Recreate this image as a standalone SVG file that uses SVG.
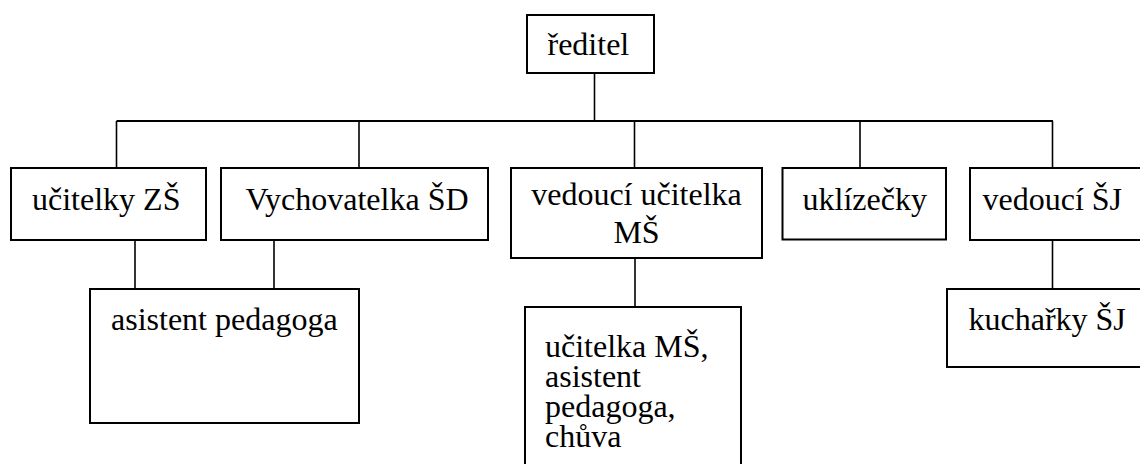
<svg xmlns="http://www.w3.org/2000/svg" width="1140" height="464" viewBox="0 0 1140 464">
<style>
.box{fill:#fff;stroke:#000;stroke-width:2}
.ln{stroke:#000;stroke-width:1.6;fill:none}
</style>
<rect width="1140" height="464" fill="#fff"/>
<g id="connectors">
<line class="ln" x1="594.5" y1="73" x2="594.5" y2="121"/>
<line class="ln" x1="116.5" y1="121" x2="1053" y2="121" style="stroke-width:2"/>
<line class="ln" x1="116.5" y1="121" x2="116.5" y2="168"/>
<line class="ln" x1="359" y1="121" x2="359" y2="168"/>
<line class="ln" x1="634.5" y1="121" x2="634.5" y2="168"/>
<line class="ln" x1="860" y1="121" x2="860" y2="168"/>
<line class="ln" x1="1052.5" y1="121" x2="1052.5" y2="168"/>
<line class="ln" x1="135" y1="240" x2="135" y2="289"/>
<line class="ln" x1="274" y1="240" x2="274" y2="289"/>
<line class="ln" x1="635" y1="258" x2="635" y2="307"/>
<line class="ln" x1="1052.5" y1="240" x2="1052.5" y2="289"/>
</g>
<g id="reditel">
<rect class="box" x="527" y="15" width="127" height="58"/>
<text x="547.5" y="54.5" style="font-family:'Times New Roman';font-size:32px">ředitel</text>
</g>
<g id="ucitelky-zs">
<rect class="box" x="11" y="168" width="195" height="72"/>
<text x="32" y="210" style="font-family:'Times New Roman';font-size:32px">učitelky ZŠ</text>
</g>
<g id="vychovatelka-sd">
<rect class="box" x="221" y="168" width="267" height="72"/>
<text x="245.5" y="210" style="font-family:'Times New Roman';font-size:32px">Vychovatelka ŠD</text>
</g>
<g id="vedouci-ucitelka-ms">
<rect class="box" x="511" y="168" width="251" height="90"/>
<text x="636.5" y="205" text-anchor="middle" style="font-family:'Times New Roman';font-size:32px">vedoucí učitelka</text>
<text x="636.5" y="243" text-anchor="middle" style="font-family:'Times New Roman';font-size:32px">MŠ</text>
</g>
<g id="uklizecky">
<rect class="box" x="782.5" y="168" width="163.5" height="71.5"/>
<text x="802.5" y="210" style="font-family:'Times New Roman';font-size:32px">uklízečky</text>
</g>
<g id="vedouci-sj">
<rect class="box" x="970" y="168" width="200" height="72"/>
<text x="982.5" y="210" style="font-family:'Times New Roman';font-size:32px">vedoucí ŠJ</text>
</g>
<g id="asistent-pedagoga">
<rect class="box" x="90" y="289" width="269" height="134"/>
<text x="111" y="329.5" style="font-family:'Times New Roman';font-size:32px">asistent pedagoga</text>
</g>
<g id="ucitelka-ms">
<rect class="box" x="525" y="307" width="216" height="180"/>
<text x="545" y="356.5" style="font-family:'Times New Roman';font-size:32px">učitelka MŠ,</text>
<text x="545" y="386.5" style="font-family:'Times New Roman';font-size:32px">asistent</text>
<text x="545" y="416.5" style="font-family:'Times New Roman';font-size:32px">pedagoga,</text>
<text x="545" y="446.5" style="font-family:'Times New Roman';font-size:32px">chůva</text>
</g>
<g id="kucharky-sj">
<rect class="box" x="947" y="289" width="220" height="78"/>
<text x="968.5" y="329.5" style="font-family:'Times New Roman';font-size:32px">kuchařky ŠJ</text>
</g>
</svg>
